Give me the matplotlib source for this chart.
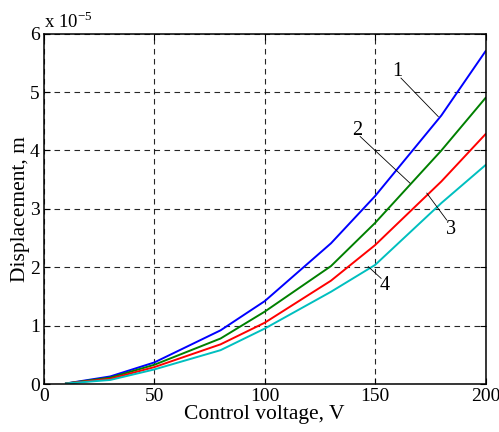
import matplotlib
matplotlib.use("Agg")
import matplotlib.pyplot as plt
from matplotlib.ticker import FuncFormatter

plt.rcParams['font.family'] = ['Liberation Serif', 'DejaVu Serif']
plt.rcParams['mathtext.fontset'] = 'custom'
plt.rcParams['mathtext.rm'] = 'Liberation Serif'

# control voltage, V
voltage = [10, 30, 50, 80, 100, 130, 150, 180, 200]
# displacement, units of 1e-5 m
displ_1 = [0.01, 0.13, 0.37, 0.92, 1.42, 2.41, 3.22, 4.60, 5.70]
displ_2 = [0.01, 0.11, 0.33, 0.78, 1.24, 2.02, 2.76, 4.00, 4.90]
displ_3 = [0.01, 0.09, 0.29, 0.68, 1.05, 1.77, 2.38, 3.47, 4.28]
displ_4 = [0.01, 0.07, 0.25, 0.58, 0.95, 1.58, 2.04, 3.10, 3.75]
scale = 1e-5

colors = ['#0000ff', '#008000', '#ff0000', '#00bfbf']

fig = plt.figure(figsize=(4.99, 4.32), dpi=100)
ax = fig.add_axes([0.088, 0.111, 0.885, 0.811])

for d, c in zip([displ_1, displ_2, displ_3, displ_4], colors):
    ax.plot(voltage, [v * scale for v in d], color=c, lw=1.4)

ax.set_xlim(0, 200)
ax.set_ylim(0, 6 * scale)
ax.set_xticks([0, 50, 100, 150, 200])
ax.set_yticks([i * scale for i in range(7)])
ax.yaxis.set_major_formatter(FuncFormatter(lambda v, p: f"{v / scale:g}"))
ax.tick_params(direction='in', length=4, labelsize=14, top=True, right=True)
ax.tick_params(axis='x', pad=3)
ax.tick_params(axis='y', pad=3)
ax.grid(True, color='k', ls=(0, (5, 4)), lw=0.8, alpha=0.85)
for s in ax.spines.values():
    s.set_linewidth(1.1)

ax.set_xlabel('Control voltage, V', fontsize=15.5, labelpad=0)
ax.set_ylabel('Displacement, m', fontsize=15.5, labelpad=0)
ax.text(0.0, 1.005, r'x 10$^{-5}$', transform=ax.transAxes, fontsize=13.5,
        ha='left', va='bottom')

# curve labels with leader lines
labels = [('1', (160, 5.35), (161.7, 5.24), (178.6, 4.58)),
          ('2', (141.8, 4.35), (143.2, 4.24), (165.8, 3.44)),
          ('3', (184.4, 2.65), (173.4, 3.27), (182.4, 2.81)),
          ('4', (154.5, 1.68), (146.9, 2.01), (152.7, 1.81))]
for txt, tpos, p0, p1 in labels:
    ax.text(tpos[0], tpos[1] * scale, txt, fontsize=14.5, ha='center', va='center')
    ax.plot([p0[0], p1[0]], [p0[1] * scale, p1[1] * scale], color='k', lw=0.6)

fig.savefig('out.png', dpi=100)
